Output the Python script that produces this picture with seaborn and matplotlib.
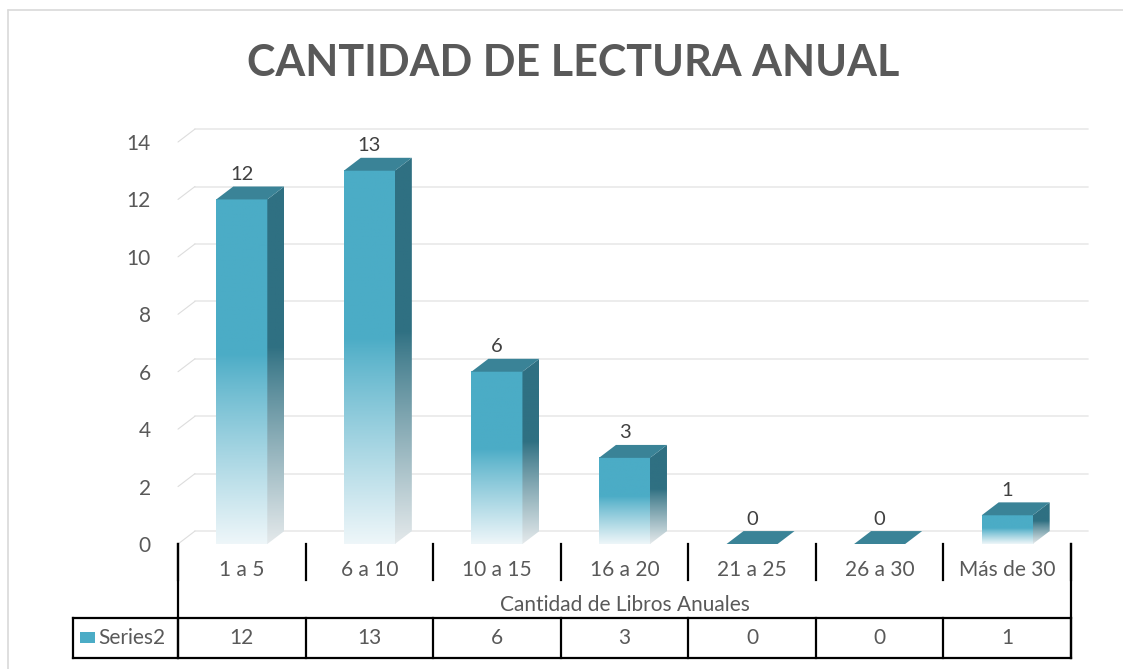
import numpy as np
import seaborn as sns
import matplotlib.pyplot as plt
from matplotlib.patches import Polygon, Rectangle
from matplotlib.lines import Line2D
from matplotlib.transforms import blended_transform_factory

# data
categories = ['1 a 5', '6 a 10', '10 a 15', '16 a 20', '21 a 25', '26 a 30', 'Más de 30']
values = [12, 13, 6, 3, 0, 0, 1]
yticks = [0, 2, 4, 6, 8, 10, 12, 14]
series_name = 'Series2'
title = 'CANTIDAD DE LECTURA ANUAL'
xlabel = 'Cantidad de Libros Anuales'

FRONT = '#4BACC6'
SIDE = '#2F7082'
TOP = '#3A8397'
TEXT = '#595959'
DX, DY = 0.133, 0.45   # fake 3d depth (data units)

W, H = 1123, 669
sns.set_style('white')
plt.rcParams['font.family'] = ['Lato', 'DejaVu Sans']

fig = plt.figure(figsize=(W / 100, H / 100), dpi=100)
ax = fig.add_axes([178 / W, 1 - 544 / H, (1071 - 178) / W, (544 - 142) / H])

sns.barplot(x=categories, y=values, color=FRONT, width=0.4, saturation=1, ax=ax, zorder=2)


def gradient(c_top, c_bot, start=0.45, n=256):
    t = np.linspace(0, 1, n)
    s = np.clip((t - start) / (1 - start), 0, 1) ** 0.9
    a = np.array(plt.matplotlib.colors.to_rgb(c_top))
    b = np.array(plt.matplotlib.colors.to_rgb(c_bot))
    return (a[None, :] * (1 - s[:, None]) + b[None, :] * s[:, None])[:, None, :]


front_img = gradient(FRONT, '#EEF6F9')
side_img = gradient(SIDE, '#E4E9EB')

for p in list(ax.patches):
    x0, w, h = p.get_x(), p.get_width(), p.get_height()
    x1 = x0 + w
    p.set_facecolor('none')
    p.set_edgecolor('none')
    if h > 0:
        ax.imshow(front_img, extent=[x0, x1, 0, h], aspect='auto', origin='upper', zorder=2)
        side = Polygon([(x1, 0), (x1 + DX, DY), (x1 + DX, h + DY), (x1, h)],
                       closed=True, facecolor='none', edgecolor='none')
        ax.add_patch(side)
        im = ax.imshow(side_img, extent=[x1, x1 + DX, 0, h + DY], aspect='auto',
                       origin='upper', zorder=2)
        im.set_clip_path(side)
    ax.add_patch(Polygon([(x0, h), (x1, h), (x1 + DX, h + DY), (x0 + DX, h + DY)],
                         closed=True, facecolor=TOP, edgecolor='none', zorder=3))
    ax.text(x0 + w / 2, h + 0.87, f'{h:.0f}', ha='center', va='center',
            fontsize=14.5, color='#404040', zorder=4)

# back wall gridlines
for v in yticks:
    ax.plot([-0.5 + DX, 6.5 + DX], [v + DY, v + DY], color='#EBEBEB', lw=1.3,
            zorder=0.5, clip_on=False)
    ax.plot([-0.5, -0.5 + DX], [v, v + DY], color='#DDDDDD', lw=0.8,
            zorder=0.5, clip_on=False)

ax.set_xlim(-0.5, 6.5)
ax.set_ylim(0, 14)
ax.set_yticks(yticks)
ax.tick_params(axis='y', left=False, pad=16, labelsize=15, labelcolor=TEXT)
ax.tick_params(axis='x', bottom=False, labelbottom=False)
ax.set_xlabel('')
ax.set_ylabel('')
for s in ax.spines.values():
    s.set_visible(False)

# category axis + data table
tr = blended_transform_factory(ax.transData, ax.transAxes)
lk = dict(color='black', lw=1.6, transform=tr, clip_on=False, solid_capstyle='projecting')
y_tick, y_top, y_bot = -0.0896, -0.1841, -0.2836
x_left = -1.323
for i in range(len(categories) + 1):
    b = i - 0.5
    ax.add_line(Line2D([b, b], [0, y_tick], **lk))
    ax.add_line(Line2D([b, b], [y_top, y_bot], **lk))
ax.add_line(Line2D([-0.5, -0.5], [0, y_bot], **lk))
ax.add_line(Line2D([6.5, 6.5], [0, y_bot], **lk))
ax.add_line(Line2D([x_left, x_left], [y_top, y_bot], **lk))
ax.add_line(Line2D([x_left, 6.5], [y_top, y_top], **lk))
ax.add_line(Line2D([x_left, 6.5], [y_bot, y_bot], **lk))

for i, (c, v) in enumerate(zip(categories, values)):
    ax.text(i, -0.0647, c, ha='center', va='center', fontsize=15, color=TEXT, transform=tr)
    ax.text(i, -0.2338, str(v), ha='center', va='center', fontsize=15, color=TEXT, transform=tr)
ax.text(3, -0.1517, xlabel, ha='center', va='center', fontsize=15, color=TEXT, transform=tr)

ax.add_patch(Rectangle((-1.268, -0.2463), 0.1175, 0.0274, facecolor=FRONT,
                       edgecolor='none', transform=tr, clip_on=False))
ax.text(-1.127, -0.2338, series_name, ha='left', va='center', fontsize=15,
        color=TEXT, transform=tr)

fig.text(573 / W, 1 - 63 / H, title, ha='center', va='center', fontsize=31,
         fontweight='bold', color=TEXT)

# chart area border (only left and top visible in the crop)
fig.add_artist(Line2D([8 / W, 8 / W], [0, 1 - 10 / H], color='#D9D9D9', lw=1.2))
fig.add_artist(Line2D([8 / W, 1], [1 - 10 / H, 1 - 10 / H], color='#D9D9D9', lw=1.2))

fig.savefig('out.png', dpi=100)
